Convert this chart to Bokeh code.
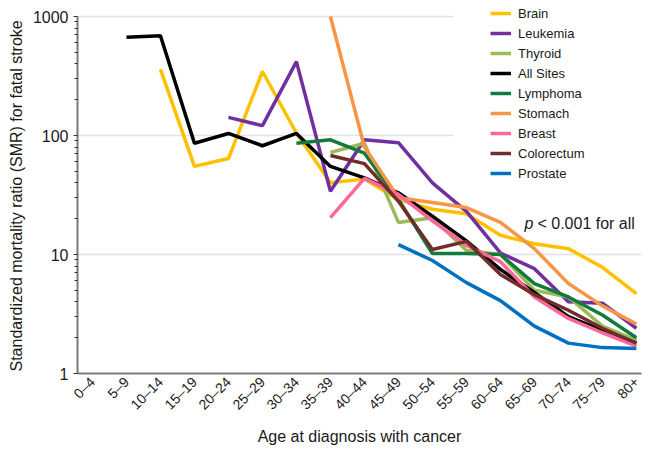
import math
from bokeh.plotting import figure
from bokeh.models import (Range1d, FixedTicker, NumeralTickFormatter, Legend, LegendItem,
                          Label, BoxAnnotation)
from bokeh.embed import file_html
from bokeh.resources import INLINE

nan = float("nan")

categories = ["0–4", "5–9", "10–14", "15–19", "20–24", "25–29", "30–34", "35–39", "40–44",
              "45–49", "50–54", "55–59", "60–64", "65–69", "70–74", "75–79", "80+"]

brain      = [nan, nan, 360, 55, 64, 345, 105, 40, 43, 29, 24, 22, 14.5, 12.3, 11.2, 7.8, 4.7]
leukemia   = [nan, nan, nan, nan, 142, 121, 418, 34, 92, 87, 40, 23, 10.3, 7.6, 4.0, 3.9, 2.4]
thyroid    = [nan, nan, nan, nan, nan, nan, nan, 72, 86, 18.6, 20.4, 10.8, 10.0, 5.0, 4.4, 2.5, 1.9]
all_sites  = [nan, 670, 690, 86, 104, 82, 104, 55, 44, 33, 21, 13, 7.5, 4.8, 3.0, 2.3, 1.8]
lymphoma   = [nan, nan, nan, nan, nan, nan, 86, 92, 71, 29, 10.2, 10.2, 10.0, 5.7, 4.4, 3.1, 2.0]
stomach    = [nan, nan, nan, nan, nan, nan, nan, 1000, 80, 30, 27.3, 24.8, 18.6, 11.2, 5.7, 3.7, 2.6]
breast     = [nan, nan, nan, nan, nan, nan, nan, 20.4, 43.6, 32, 19.2, 11.9, 8.7, 4.4, 2.9, 2.2, 1.7]
colorectum = [nan, nan, nan, nan, nan, nan, nan, 68, 58, 28, 11, 12.9, 6.8, 4.6, 3.4, 2.4, 1.8]
prostate   = [nan, nan, nan, nan, nan, nan, nan, nan, nan, 12.1, 8.9, 5.8, 4.1, 2.5, 1.8, 1.65, 1.62]

series_names = ["Brain", "Leukemia", "Thyroid", "All Sites", "Lymphoma", "Stomach",
                "Breast", "Colorectum", "Prostate"]
series_values = [brain, leukemia, thyroid, all_sites, lymphoma, stomach, breast, colorectum, prostate]
series_colors = ["#FFC000", "#7030A0", "#9BBB59", "#000000", "#127A3C", "#F79646",
                 "#FF6699", "#712D29", "#0070C0"]

FONT = "Liberation Sans"

# frame spans the full canvas top so the legend (which sits above the 1000 line) is not clipped
y_top = 10 ** (373 / 119)

p = figure(width=649, height=449, output_backend="svg", toolbar_location=None,
           y_axis_type="log", x_range=Range1d(-0.44, 16.15), y_range=Range1d(1, y_top),
           min_border_left=77, min_border_right=8, min_border_top=0, min_border_bottom=76)
p.outline_line_color = None
p.background_fill_color = "white"

xs = list(range(len(categories)))

# grid
p.xgrid.visible = False
p.ygrid.grid_line_color = "#e2e2e2"
p.ygrid.grid_line_width = 1.6
p.ygrid.minor_grid_line_color = None

# white area behind legend (hides gridlines there)
box = BoxAnnotation(left=10.62, bottom=38, fill_color="white", fill_alpha=1.0,
                    line_color=None, level="underlay")
p.add_layout(box)

# x axis
xa = p.xaxis[0]
xa.ticker = FixedTicker(ticks=xs)
xa.major_label_overrides = {i: c for i, c in zip(xs, categories)}
xa.major_label_orientation = math.pi / 4
xa.major_tick_line_color = None
xa.minor_tick_line_color = None
xa.major_tick_out = 0
xa.major_label_standoff = 6
xa.major_label_text_font = FONT
xa.major_label_text_font_size = "14px"
xa.major_label_text_color = "#1a1a1a"
xa.axis_line_color = "#7a7a7a"
xa.axis_line_width = 2
xa.axis_label = "Age at diagnosis with cancer"
xa.axis_label_text_font = FONT
xa.axis_label_text_font_size = "16px"
xa.axis_label_text_font_style = "normal"
xa.axis_label_text_color = "#1a1a1a"
xa.axis_label_standoff = 7

# y axis
ya = p.yaxis[0]
minor = [m * 10 ** d for d in range(0, 3) for m in range(2, 10)]
ya.ticker = FixedTicker(ticks=[1, 10, 100, 1000], minor_ticks=minor)
ya.formatter = NumeralTickFormatter(format="0")
ya.bounds = (1, 1000)
ya.major_tick_out = 4
ya.major_tick_in = 0
ya.minor_tick_out = 3
ya.minor_tick_in = 0
ya.major_tick_line_color = "#333333"
ya.minor_tick_line_color = "#333333"
ya.major_label_standoff = 5
ya.major_label_text_font = FONT
ya.major_label_text_font_size = "16px"
ya.major_label_text_color = "#1a1a1a"
ya.axis_line_color = "#7a7a7a"
ya.axis_line_width = 2
ya.axis_label = "Standardized mortality ratio (SMR) for fatal stroke" + "\u00a0" * 4
ya.axis_label_text_font = FONT
ya.axis_label_text_font_size = "16px"
ya.axis_label_text_font_style = "normal"
ya.axis_label_text_color = "#1a1a1a"
ya.axis_label_standoff = 5

items = []
for name, vals, col in zip(series_names, series_values, series_colors):
    r = p.line(xs, vals, line_color=col, line_width=3.5)
    items.append(LegendItem(label=name, renderers=[r]))

legend = Legend(items=items, location=(413, 190), orientation="vertical",
                glyph_width=21, glyph_height=20, label_height=20, spacing=0,
                padding=0, margin=0, label_standoff=7, border_line_color=None,
                background_fill_alpha=0, label_text_font=FONT,
                label_text_font_size="13px", label_text_color="#1a1a1a")
p.add_layout(legend)

lab_p = Label(x=12.71, y=18.3, text="p", text_font=FONT, text_font_size="16px",
              text_font_style="italic", text_color="#1a1a1a", text_baseline="alphabetic")
lab_rest = Label(x=13.09, y=18.3, text="< 0.001 for all", text_font=FONT, text_font_size="16px",
                 text_color="#1a1a1a", text_baseline="alphabetic")
p.add_layout(lab_p)
p.add_layout(lab_rest)

open("out.html", "w").write(file_html(p, INLINE))
